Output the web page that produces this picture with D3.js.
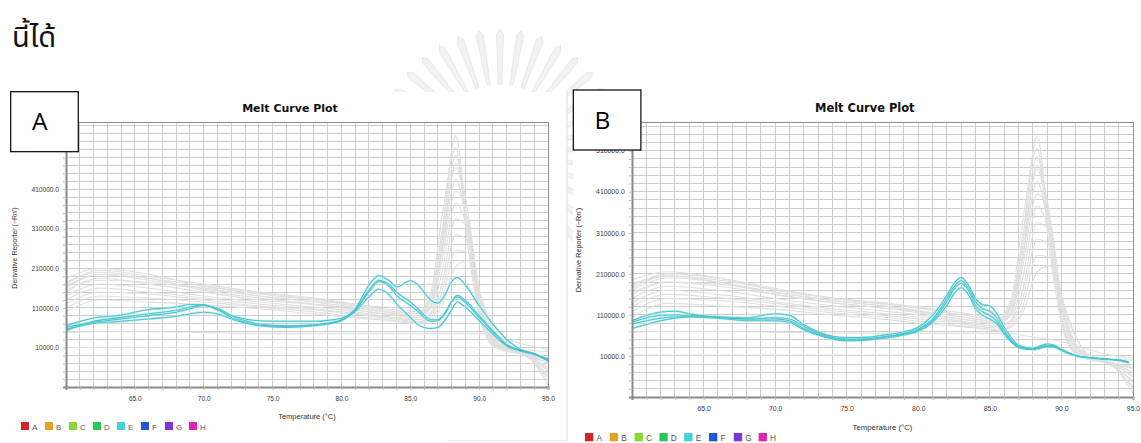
<!DOCTYPE html>
<html><head><meta charset="utf-8">
<script src="https://cdn.jsdelivr.net/npm/d3@7"></script>
<style>body{margin:0;background:#fff;} svg{display:block;}</style>
</head><body>
<svg id="c" width="1141" height="443"></svg>
<script>
// ---------------- DATA ----------------
const tempTicks = [65, 70, 75, 80, 85, 90, 95];
const valueTicks = [10000, 110000, 210000, 310000, 410000, 510000];
const legendWells = ["A", "B", "C", "D", "E", "F", "G", "H"];
const legendColors = ["#d42424", "#e1a525", "#88d931", "#27c95a", "#3fd4da", "#2456d6", "#7c34dc", "#de26b3"];
const panelLabels = ["A", "B"];
const chartTitle = "Melt Curve Plot";
const xTitle = "Temperature (°C)";
const yTitle = "Derivative Reporter (−Rn')";
const headingText = "นี้ได้";

// Panel A – background (other wells, grey)
const grayTempsA = [60, 62.5, 66, 70, 74, 78, 80, 82, 84, 85.5, 86.5, 87.3, 88.3, 89.2, 90, 91, 92, 93, 95];
const grayA1 = [170e3,205e3,190e3,170e3,150e3,135e3,125e3,115e3,110e3,100e3,130e3,300e3,545e3,290e3,100e3,20e3,5e3,0,-85e3];
const grayA2 = [185e3,210e3,195e3,165e3,145e3,130e3,120e3,110e3,100e3,95e3,140e3,300e3,495e3,300e3,100e3,15e3,0,-5e3,-30e3];
const grayA3 = [160e3,195e3,180e3,160e3,140e3,125e3,115e3,105e3,95e3,90e3,130e3,280e3,465e3,320e3,120e3,25e3,5e3,0,-75e3];
const grayA4 = [150e3,185e3,170e3,150e3,130e3,118e3,110e3,100e3,90e3,85e3,115e3,250e3,435e3,300e3,110e3,20e3,5e3,-5e3,-20e3];
const grayA5 = [175e3,200e3,185e3,155e3,135e3,120e3,112e3,100e3,92e3,85e3,110e3,230e3,405e3,330e3,140e3,30e3,10e3,0,-60e3];
const grayA6 = [140e3,170e3,160e3,140e3,125e3,112e3,105e3,95e3,85e3,80e3,100e3,200e3,375e3,300e3,130e3,25e3,5e3,-5e3,-15e3];
const grayA7 = [130e3,160e3,150e3,135e3,120e3,108e3,100e3,92e3,85e3,80e3,95e3,170e3,335e3,310e3,160e3,60e3,10e3,0,-45e3];
const grayA8 = [120e3,150e3,145e3,130e3,115e3,105e3,98e3,90e3,82e3,75e3,90e3,150e3,295e3,280e3,150e3,55e3,10e3,0,-20e3];
const grayA9 = [110e3,140e3,135e3,125e3,112e3,100e3,92e3,85e3,78e3,72e3,85e3,130e3,255e3,250e3,140e3,35e3,5e3,-5e3,-50e3];
const grayA10 = [100e3,130e3,125e3,118e3,108e3,95e3,88e3,82e3,76e3,70e3,80e3,115e3,215e3,230e3,130e3,40e3,10e3,0,-30e3];
const grayA11 = [165e3,195e3,185e3,165e3,148e3,132e3,122e3,112e3,104e3,96e3,150e3,340e3,515e3,260e3,90e3,15e3,3e3,-3e3,-40e3];
const grayA12 = [155e3,180e3,175e3,158e3,140e3,126e3,116e3,106e3,96e3,90e3,120e3,260e3,475e3,350e3,150e3,30e3,8e3,-2e3,-65e3];
const grayA13 = [48e3,50e3,50e3,48e3,45e3,45e3,45e3,45e3,45e3,45e3,45e3,45e3,45e3,45e3,45e3,40e3,30e3,20e3,5e3];
const grayA14 = [10e3,10e3,10e3,10e3,10e3,10e3,10e3,10e3,10e3,10e3,10e3,10e3,10e3,10e3,10e3,10e3,8e3,5e3,0];

// Panel A – well E (cyan)
const cyanTempsA = [60,62,64,66,68,69,70,71,72,73,74,76,78,79,80,81,82,82.7,83.5,84,85,85.5,86,86.5,87,87.5,88,88.4,89,90,91,92,93,94,95];
const cyanA1 = [64900,84500,92000,106000,112000,118800,118000,105000,90500,82000,77700,76000,76000,78500,83700,107600,167500,191400,178000,163000,178600,170000,150000,129000,122000,142000,176000,187000,167500,116000,69000,30600,5000,-5300,-25000];
const cyanA2 = [60600,73400,81900,90500,99100,107600,116200,109300,90500,77700,69100,64900,67400,71700,79400,103300,150400,176100,163200,141800,116200,103300,86200,76000,77700,94800,125000,141800,129000,90500,52000,17800,3300,-6100,-20700];
const cyanA3 = [56300,70800,76000,81900,88800,94800,99100,94800,81900,71700,64900,60600,64900,69100,77700,100800,137600,157200,141800,120500,86200,69100,60600,58000,60600,77700,105000,124700,112000,77700,43500,13500,700,-7900,-19000];
const cyanA4 = [52000,76000,86000,95000,104000,112000,117000,106000,86000,74000,67000,63000,66000,70000,80000,105000,155000,180000,168000,150000,125000,110000,92000,80000,80000,97000,125000,138000,124000,86000,49000,16000,2000,-7000,-23000];

// Panel B – background (other wells, grey)
const grayTempsB = [60, 62.5, 66, 70, 74, 78, 80, 82, 84, 85.5, 86.5, 87.3, 88.3, 89.2, 90, 91, 92, 93, 95];
const grayB1 = [180e3,210e3,200e3,175e3,150e3,135e3,130e3,120e3,110e3,100e3,130e3,300e3,545e3,290e3,100e3,20e3,5e3,0,-80e3];
const grayB2 = [195e3,215e3,200e3,170e3,150e3,138e3,128e3,115e3,105e3,95e3,140e3,300e3,495e3,310e3,100e3,15e3,0,-5e3,-30e3];
const grayB3 = [170e3,200e3,190e3,165e3,145e3,130e3,120e3,110e3,100e3,92e3,130e3,280e3,465e3,330e3,130e3,25e3,5e3,0,-70e3];
const grayB4 = [160e3,190e3,180e3,160e3,140e3,125e3,115e3,105e3,95e3,88e3,115e3,250e3,435e3,300e3,110e3,20e3,5e3,-5e3,-20e3];
const grayB5 = [185e3,205e3,190e3,160e3,140e3,125e3,118e3,105e3,95e3,88e3,110e3,230e3,405e3,340e3,150e3,30e3,10e3,0,-55e3];
const grayB6 = [150e3,180e3,170e3,150e3,132e3,118e3,110e3,100e3,90e3,82e3,100e3,200e3,375e3,300e3,130e3,25e3,5e3,-5e3,-15e3];
const grayB7 = [140e3,170e3,160e3,142e3,125e3,112e3,105e3,96e3,88e3,82e3,95e3,170e3,335e3,310e3,160e3,60e3,10e3,0,-40e3];
const grayB8 = [130e3,160e3,152e3,138e3,120e3,108e3,100e3,92e3,84e3,78e3,90e3,150e3,295e3,280e3,150e3,55e3,10e3,0,-20e3];
const grayB9 = [118e3,150e3,145e3,132e3,115e3,103e3,95e3,88e3,80e3,74e3,85e3,130e3,255e3,250e3,140e3,35e3,5e3,-5e3,-50e3];
const grayB10 = [105e3,138e3,132e3,124e3,110e3,98e3,90e3,84e3,78e3,72e3,80e3,115e3,215e3,230e3,130e3,40e3,10e3,0,-30e3];
const grayB11 = [175e3,205e3,195e3,172e3,152e3,136e3,126e3,116e3,106e3,98e3,150e3,340e3,515e3,260e3,90e3,15e3,3e3,-3e3,-40e3];
const grayB12 = [165e3,190e3,185e3,165e3,145e3,130e3,120e3,110e3,100e3,92e3,120e3,260e3,475e3,350e3,150e3,30e3,8e3,-2e3,-65e3];
const grayB13 = [68e3,70e3,70e3,68e3,66e3,65e3,65e3,65e3,65e3,65e3,65e3,60e3,55e3,50e3,45e3,35e3,25e3,15e3,5e3];
const grayB14 = [12e3,12e3,12e3,12e3,12e3,12e3,12e3,12e3,12e3,12e3,12e3,12e3,12e3,12e3,12e3,10e3,8e3,5e3,0];

// Panel B – well E (cyan)
const cyanTempsB = [60,62,63,64,66,68,70,71,72,73,74,75,76,78,79,80,81,82,82.5,83,83.5,84,84.5,85,85.5,86,86.5,87,88,89,89.5,90,91,92,93,94,94.7];
const cyanB1 = [96e3,117e3,119e3,113e3,105e3,103e3,113e3,109e3,86e3,69e3,58e3,55e3,55e3,63e3,69e3,80e3,109e3,158e3,187e3,201e3,183e3,150e3,135e3,132e3,113e3,80e3,55e3,36e3,29e3,39e3,36e3,26e3,11e3,6e3,3e3,0,-5e3];
const cyanB2 = [88e3,102e3,105e3,106e3,105e3,100e3,100e3,96e3,77e3,63e3,53e3,49e3,49e3,58e3,63e3,73e3,96e3,143e3,173e3,187e3,170e3,133e3,117e3,109e3,94e3,67e3,47e3,32e3,27e3,34e3,33e3,25e3,11e3,6e3,3e3,0,-5e3];
const cyanB3 = [77e3,96e3,102e3,105e3,102e3,96e3,96e3,92e3,74e3,61e3,51e3,47e3,48e3,55e3,61e3,70e3,92e3,133e3,162e3,176e3,160e3,125e3,109e3,100e3,88e3,63e3,44e3,30e3,25e3,32e3,31e3,23e3,10e3,5e3,2e3,-1e3,-7e3];
const cyanB4 = [92e3,109e3,110e3,109e3,104e3,100e3,103e3,100e3,82e3,66e3,55e3,51e3,51e3,59e3,65e3,76e3,100e3,150e3,179e3,193e3,176e3,142e3,125e3,119e3,102e3,72e3,49e3,33e3,28e3,36e3,35e3,25e3,11e3,6e3,3e3,0,-5e3];

// ---------------- DRAWING ----------------
const svg = d3.select("#c");

// faint watermark seal behind the panels (decoration)
(function seal() {
  const cx = 500, cy = 150, r1 = 66, r2 = 116;
  const g = svg.append("g");
  d3.range(0, 360, 10).forEach(a => {
    const rad = a * Math.PI / 180;
    const p = [
      [cx + r1 * Math.cos(rad - 0.025), cy + r1 * Math.sin(rad - 0.025)],
      [cx + r2 * Math.cos(rad - 0.03), cy + r2 * Math.sin(rad - 0.03)],
      [cx + (r2 + 5) * Math.cos(rad), cy + (r2 + 5) * Math.sin(rad)],
      [cx + r2 * Math.cos(rad + 0.03), cy + r2 * Math.sin(rad + 0.03)],
      [cx + r1 * Math.cos(rad + 0.025), cy + r1 * Math.sin(rad + 0.025)]
    ];
    g.append("path").attr("d", d3.line()(p) + "Z")
      .attr("fill", "#f2f2f2").attr("stroke", "#e3e3e3").attr("stroke-width", 0.8);
  });
})();

// heading text
svg.append("text").attr("x", 12).attr("y", 47)
  .attr("font-family", "'Noto Sans Thai','Loma','Garuda','Tlwg Typo','Noto Sans',sans-serif")
  .attr("font-size", 29).attr("fill", "#111").text(headingText);

function drawPanel(cfg, grayTemps, grays, cyanTemps, cyans) {
  const s = cfg.s;
  const root = svg.append("g");
  root.append("rect").attr("x", cfg.bx).attr("y", cfg.by).attr("width", cfg.bw).attr("height", cfg.bh)
    .attr("fill", "#fff");
  if (cfg.edge) {
    root.append("line").attr("x1", cfg.bx + cfg.bw).attr("x2", cfg.bx + cfg.bw)
      .attr("y1", cfg.by).attr("y2", cfg.by + cfg.bh).attr("stroke", "#e2e2e2").attr("stroke-width", 1.2);
    root.append("line").attr("x1", cfg.bx + cfg.bw - 120).attr("x2", cfg.bx + cfg.bw)
      .attr("y1", cfg.by + cfg.bh).attr("y2", cfg.by + cfg.bh).attr("stroke", "#e6e6e6").attr("stroke-width", 1.2);
  }

  const x = d3.scaleLinear().domain([60, 95]).range([cfg.left, cfg.left + cfg.w]);
  const y = d3.scaleLinear().domain([-90000, 580000]).range([cfg.top + cfg.h, cfg.top]);

  // grid
  const grid = root.append("g").attr("stroke", "#c9c9c9").attr("stroke-width", 0.9).attr("shape-rendering", "crispEdges");
  grid.selectAll("line.v").data(d3.range(61, 95)).join("line").attr("class", "v")
    .attr("x1", d => x(d)).attr("x2", d => x(d)).attr("y1", cfg.top).attr("y2", cfg.top + cfg.h);
  grid.selectAll("line.h").data(d3.range(-70000, 580000, 20000)).join("line").attr("class", "h")
    .attr("y1", d => y(d)).attr("y2", d => y(d)).attr("x1", cfg.left).attr("x2", cfg.left + cfg.w);

  const cid = "clip" + cfg.id;
  root.append("clipPath").attr("id", cid).append("rect")
    .attr("x", cfg.left).attr("y", cfg.top).attr("width", cfg.w).attr("height", cfg.h);

  const line = d3.line().x(d => x(d[0])).y(d => y(d[1])).curve(d3.curveMonotoneX);
  const plot = root.append("g").attr("clip-path", `url(#${cid})`);
  plot.selectAll("path.gray").data(grays).join("path").attr("class", "gray")
    .attr("d", vals => line(grayTemps.map((t, i) => [t, vals[i]])))
    .attr("fill", "none").attr("stroke", "#dfdfdf").attr("stroke-width", 1.1);
  plot.selectAll("path.halo").data(cyans).join("path").attr("class", "halo")
    .attr("d", vals => line(cyanTemps.map((t, i) => [t, vals[i]])))
    .attr("fill", "none").attr("stroke", "#c4eef0").attr("stroke-width", 2.2);
  plot.selectAll("path.cyan").data(cyans).join("path").attr("class", "cyan")
    .attr("d", vals => line(cyanTemps.map((t, i) => [t, vals[i]])))
    .attr("fill", "none").attr("stroke", "#48c4cc").attr("stroke-width", 1.05);

  root.append("rect").attr("x", cfg.left).attr("y", cfg.top).attr("width", cfg.w).attr("height", cfg.h)
    .attr("fill", "none").attr("stroke", "#8f8f8f").attr("stroke-width", 1).attr("shape-rendering", "crispEdges");

  const tickFont = "'Liberation Sans', Arial, sans-serif";
  const xAxis = d3.axisBottom(x).tickValues(d3.range(61, 96)).tickSize(3 * s).tickPadding(6 * s)
    .tickFormat(d => tempTicks.includes(d) ? d3.format(".1f")(d) : "");
  const gx = root.append("g").attr("transform", `translate(0,${cfg.top + cfg.h})`).call(xAxis);
  gx.select(".domain").attr("stroke", "#8a8a8a").attr("stroke-width", 2);
  gx.selectAll(".tick line").attr("stroke", "#bcbcbc");
  gx.selectAll("text").attr("font-family", tickFont).attr("font-size", 6.6 * s).attr("fill", "#3a3a3a");

  const yAxis = d3.axisLeft(y).tickValues(d3.range(-70000, 580000, 20000)).tickSize(3 * s).tickPadding(4 * s)
    .tickFormat(d => valueTicks.includes(d) ? d + ".0" : "");
  const gy = root.append("g").attr("transform", `translate(${cfg.left},0)`).call(yAxis);
  gy.select(".domain").attr("stroke", "#8a8a8a").attr("stroke-width", 2);
  gy.selectAll(".tick line").attr("stroke", "#bcbcbc");
  gy.selectAll("text").attr("font-family", tickFont).attr("font-size", 6.6 * s).attr("fill", "#3a3a3a");

  root.append("text").attr("x", cfg.left + cfg.w / 2 - 17 * s).attr("y", cfg.top - 10)
    .attr("text-anchor", "middle").attr("font-family", "'DejaVu Sans', sans-serif")
    .attr("font-weight", "bold").attr("font-size", 11 * s).attr("fill", "#111").text(chartTitle);
  root.append("text").attr("x", cfg.left + cfg.w / 2).attr("y", cfg.top + cfg.h + 32 * s)
    .attr("text-anchor", "middle").attr("font-family", tickFont)
    .attr("font-size", 7.5 * s).attr("fill", "#333").text(xTitle);
  root.append("text").attr("transform", `translate(${cfg.left - 49 * s},${cfg.ytY}) rotate(-90)`)
    .attr("text-anchor", "middle").attr("font-family", tickFont)
    .attr("font-size", 7 * s).attr("fill", "#333").text(yTitle);

  const lg = root.append("g").selectAll("g").data(legendWells).join("g")
    .attr("transform", (d, i) => `translate(${cfg.lx + i * cfg.ls},${cfg.ly})`);
  lg.append("rect").attr("width", 8 * s).attr("height", 8 * s).attr("fill", (d, i) => legendColors[i]);
  lg.append("text").attr("x", 11 * s).attr("y", 7.6 * s).attr("font-family", tickFont)
    .attr("font-size", 8 * s).attr("fill", "#555").text(d => d);

  root.append("rect").attr("x", cfg.kx).attr("y", cfg.ky).attr("width", 67.6).attr("height", 60)
    .attr("fill", "#fff").attr("stroke", "#000").attr("stroke-width", 1.2);
  root.append("text").attr("x", cfg.kx + 29).attr("y", cfg.ky + 38.5).attr("text-anchor", "middle")
    .attr("font-family", "'Open Sans','Liberation Sans',sans-serif").attr("font-size", 24.5)
    .attr("fill", "#000").text(cfg.label);
}

drawPanel({id: "A", label: panelLabels[0], s: 1, left: 66, top: 122, w: 482, h: 265,
  bx: 10, by: 92, bw: 557, bh: 349, edge: true, ytY: 248,
  lx: 21, ly: 422, ls: 24, kx: 10.7, ky: 91.7},
  grayTempsA, [grayA1, grayA2, grayA3, grayA4, grayA5, grayA6, grayA7, grayA8, grayA9, grayA10, grayA11, grayA12, grayA13, grayA14],
  cyanTempsA, [cyanA1, cyanA2, cyanA3, cyanA4]);

drawPanel({id: "B", label: panelLabels[1], s: 1.04, left: 632, top: 122, w: 501, h: 275,
  bx: 573, by: 90, bw: 568, bh: 353, edge: false, ytY: 250,
  lx: 585, ly: 433, ls: 24.8, kx: 573.3, ky: 90},
  grayTempsB, [grayB1, grayB2, grayB3, grayB4, grayB5, grayB6, grayB7, grayB8, grayB9, grayB10, grayB11, grayB12, grayB13, grayB14],
  cyanTempsB, [cyanB1, cyanB2, cyanB3, cyanB4]);
</script>
</body></html>
